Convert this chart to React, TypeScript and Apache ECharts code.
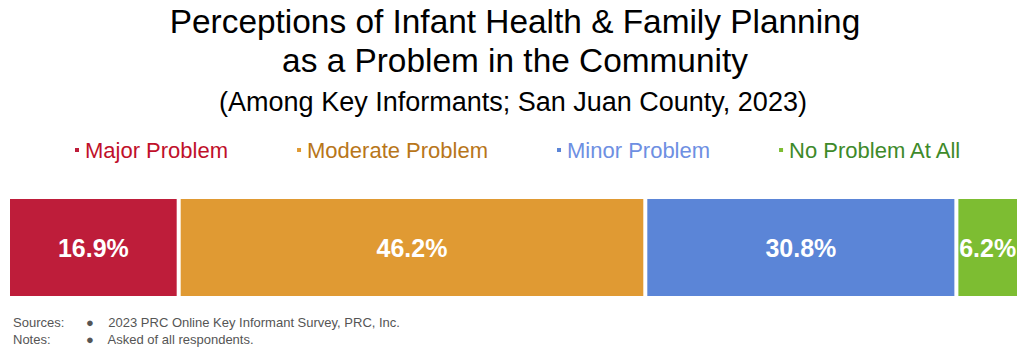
import React, { useEffect, useRef } from "react";
import * as echarts from "echarts";

const categories = ["San Juan County"];
const seriesNames = ["Major Problem", "Moderate Problem", "Minor Problem", "No Problem At All"];
const seriesValues = [16.9, 46.2, 30.8, 6.2];
const barColors = ["#BE1D3A", "#E09A33", "#5B85D7", "#7DBD32"];
const legendTextColors = ["#C0102A", "#B8761A", "#6E8FE2", "#3E8A2A"];
const titleLines = [
  "Perceptions of Infant Health & Family Planning",
  "as a Problem in the Community",
];
const subtitle = "(Among Key Informants; San Juan County, 2023)";
const footnoteLabels = ["Sources:", "Notes:"];
const footnoteTexts = ["2023 PRC Online Key Informant Survey, PRC, Inc.", "Asked of all respondents."];

export default function App() {
  const ref = useRef<HTMLDivElement>(null);
  useEffect(() => {
    document.body.style.margin = "0";
    const chart = echarts.init(ref.current!, undefined, { renderer: "svg" });
    const total = seriesValues.reduce((a, b) => a + b, 0);
    const font = "'Liberation Sans', Arial, sans-serif";
    chart.setOption({
      animation: false,
      textStyle: { fontFamily: font },
      grid: { left: 8, width: 1018, top: 197, height: 101 },
      xAxis: { type: "value", min: 0, max: total, show: false },
      yAxis: { type: "category", data: categories, show: false },
      legend: {
        top: 134,
        left: 68,
        icon: "rect",
        itemWidth: 6,
        itemHeight: 6,
        itemGap: 67,
        data: seriesNames.map((n, i) => ({
          name: n,
          textStyle: { color: legendTextColors[i], fontSize: 22, fontFamily: font },
        })),
      },
      series: seriesNames.map((n, i) => ({
        name: n,
        type: "bar",
        stack: "total",
        barWidth: "100%",
        data: [seriesValues[i]],
        itemStyle: { color: barColors[i], borderColor: "#ffffff", borderWidth: 2 },
        label: {
          show: true,
          position: "inside",
          formatter: (p: any) => `${p.value.toFixed(1)}%`,
          color: "#ffffff",
          fontSize: 25,
          fontWeight: "bold",
          fontFamily: font,
        },
      })),
      graphic: [
        ...titleLines.map((t, i) => ({
          type: "text",
          x: 515,
          y: 5 + i * 39,
          style: { text: t, fill: "#000", fontSize: 33.4, fontFamily: font, textAlign: "center" },
        })),
        {
          type: "text",
          x: 513,
          y: 88,
          style: { text: subtitle, fill: "#000", fontSize: 27, fontFamily: font, textAlign: "center" },
        },
        ...footnoteLabels.map((t, i) => ({
          type: "text",
          x: 13,
          y: 316 + i * 17,
          style: { text: t, fill: "#555", fontSize: 13, fontFamily: font },
        })),
        ...footnoteTexts.map((t, i) => ({
          type: "text",
          x: 86,
          y: 316 + i * 17,
          style: { text: "●    " + t, fill: "#555", fontSize: 13, fontFamily: font },
        })),
      ],
    });
    return () => chart.dispose();
  }, []);
  return <div ref={ref} style={{ width: 1019, height: 352 }} />;
}
